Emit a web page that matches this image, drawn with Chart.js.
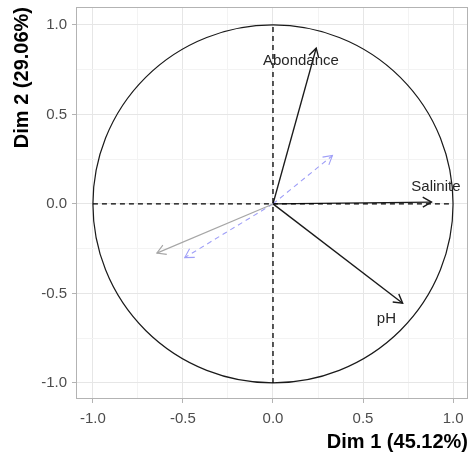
<!DOCTYPE html>
<html>
<head>
<meta charset="utf-8">
<script src="https://cdn.jsdelivr.net/npm/chart.js@4.4.1/dist/chart.umd.min.js"></script>
<style>
  html, body { margin: 0; padding: 0; background: #fff; }
  #wrap { width: 469px; height: 457px; }
</style>
</head>
<body>
<div id="wrap"><canvas id="pca"></canvas></div>
<script>
// active variables (coordinates on Dim 1 / Dim 2)
var var_names = ['Abondance', 'Salinite', 'pH'];
var var_dim1 = [0.24, 0.88, 0.72];
var var_dim2 = [0.87, 0.01, -0.555];
// where each name sits (data units)
var label_dim1 = [0.155, 0.905, 0.63];
var label_dim2 = [0.80, 0.095, -0.645];

// supplementary variables
var grey_dim1 = [-0.645];
var grey_dim2 = [-0.275];
var blue_dim1 = [0.33, -0.49];
var blue_dim2 = [0.27, -0.30];

var tick_values = [-1.0, -0.75, -0.5, -0.25, 0.0, 0.25, 0.5, 0.75, 1.0];
var major_ticks = [-1.0, -0.5, 0.0, 0.5, 1.0];

var x_title = 'Dim 1 (45.12%)';
var y_title = 'Dim 2 (29.06%)';

var FONT = '"Liberation Sans", Arial, sans-serif';

function arrowData(xs, ys) {
    var out = [];
    for (var i = 0; i < xs.length; i++) {
        out.push([{x: 0, y: 0}, {x: xs[i], y: ys[i]}]);
    }
    return out;
}

var datasets = [];
// dashed axes through the origin
datasets.push({ data: [{x: -1, y: 0}, {x: 1, y: 0}], borderColor: '#000', borderWidth: 1.3, borderDash: [5, 4], arrow: false });
datasets.push({ data: [{x: 0, y: -1}, {x: 0, y: 1}], borderColor: '#000', borderWidth: 1.3, borderDash: [5, 4], arrow: false });

arrowData(grey_dim1, grey_dim2).forEach(function(d) {
    datasets.push({ data: d, borderColor: '#a6a6a6', borderWidth: 1.1, arrow: true });
});
arrowData(blue_dim1, blue_dim2).forEach(function(d) {
    datasets.push({ data: d, borderColor: '#9f9ff7', borderWidth: 1.1, borderDash: [5, 4], arrow: true });
});
arrowData(var_dim1, var_dim2).forEach(function(d) {
    datasets.push({ data: d, borderColor: '#1a1a1a', borderWidth: 1.4, arrow: true });
});

var circlePlugin = {
    id: 'circle',
    beforeDatasetsDraw: function(chart) {
        var ctx = chart.ctx, xs = chart.scales.x, ys = chart.scales.y;
        var cx = xs.getPixelForValue(0), cy = ys.getPixelForValue(0);
        var rx = xs.getPixelForValue(1) - cx, ry = cy - ys.getPixelForValue(1);
        ctx.save();
        ctx.beginPath();
        ctx.ellipse(cx, cy, rx, ry, 0, 0, Math.PI * 2);
        ctx.strokeStyle = '#1a1a1a';
        ctx.lineWidth = 1.2;
        ctx.stroke();
        ctx.restore();
    },
    afterDatasetsDraw: function(chart) {
        var ctx = chart.ctx, xs = chart.scales.x, ys = chart.scales.y;
        ctx.save();
        chart.data.datasets.forEach(function(ds) {
            if (!ds.arrow) return;
            var x0 = xs.getPixelForValue(ds.data[0].x), y0 = ys.getPixelForValue(ds.data[0].y);
            var x1 = xs.getPixelForValue(ds.data[1].x), y1 = ys.getPixelForValue(ds.data[1].y);
            var a = Math.atan2(y1 - y0, x1 - x0);
            var len = 10, spread = Math.PI / 6;
            ctx.setLineDash([]);
            ctx.strokeStyle = ds.borderColor;
            ctx.lineWidth = ds.borderWidth;
            ctx.beginPath();
            ctx.moveTo(x1 - len * Math.cos(a - spread), y1 - len * Math.sin(a - spread));
            ctx.lineTo(x1, y1);
            ctx.lineTo(x1 - len * Math.cos(a + spread), y1 - len * Math.sin(a + spread));
            ctx.stroke();
        });
        // variable names
        ctx.font = '15px ' + FONT;
        ctx.fillStyle = '#262626';
        ctx.textAlign = 'center';
        ctx.textBaseline = 'middle';
        for (var i = 0; i < var_names.length; i++) {
            ctx.fillText(var_names[i], xs.getPixelForValue(label_dim1[i]), ys.getPixelForValue(label_dim2[i]));
        }
        // panel border
        var ca = chart.chartArea;
        ctx.strokeStyle = '#b3b3b3';
        ctx.lineWidth = 1;
        ctx.strokeRect(ca.left + 0.5, ca.top + 0.5, ca.right - ca.left - 1, ca.bottom - ca.top - 1);
        ctx.restore();
    }
};

function isMajor(v) {
    return major_ticks.some(function(m) { return Math.abs(m - v) < 1e-9; });
}

function makeScale(min, max, title, fitFn, tickPad, titlePad) {
    return {
        type: 'linear',
        min: min,
        max: max,
        afterBuildTicks: function(scale) {
            scale.ticks = tick_values.map(function(v) { return {value: v}; });
        },
        afterFit: fitFn,
        ticks: {
            autoSkip: false,
            maxRotation: 0,
            padding: tickPad,
            color: '#4d4d4d',
            font: { family: FONT, size: 15 },
            callback: function(v) { return isMajor(v) ? v.toFixed(1) : ''; }
        },
        grid: {
            color: function(c) { return isMajor(c.tick.value) ? '#e6e6e6' : '#f3f3f3'; },
            lineWidth: 1,
            drawTicks: true,
            tickLength: 4,
            tickColor: function(c) { return isMajor(c.tick.value) ? '#b3b3b3' : 'rgba(0,0,0,0)'; }
        },
        border: { display: false },
        title: {
            display: true,
            text: title,
            align: 'end',
            color: '#000',
            font: { family: FONT, size: 20, weight: 'bold' },
            padding: titlePad
        }
    };
}

var ctx = document.getElementById('pca').getContext('2d');
var chart = new Chart(ctx, {
    type: 'scatter',
    data: { datasets: datasets },
    options: {
        responsive: true,
        maintainAspectRatio: false,
        animation: false,
        showLine: true,
        elements: { point: { radius: 0 }, line: { tension: 0 } },
        layout: { padding: { top: 7, right: 1, left: 0, bottom: 0 } },
        plugins: { legend: { display: false }, tooltip: { enabled: false } },
        scales: {
            x: makeScale(-1.094, 1.083, x_title, function(s) {
                s.height = 58;
                s.paddingLeft = 0;
                s.paddingRight = 0;
            }, 7, { top: 0, bottom: 3 }),
            y: makeScale(-1.09, 1.10, y_title, function(s) {
                s.width = 76;
                s.paddingTop = 0;
                s.paddingBottom = 0;
            }, 5, { top: 10, bottom: 0 })
        }
    },
    plugins: [circlePlugin]
});
</script>
</body>
</html>
